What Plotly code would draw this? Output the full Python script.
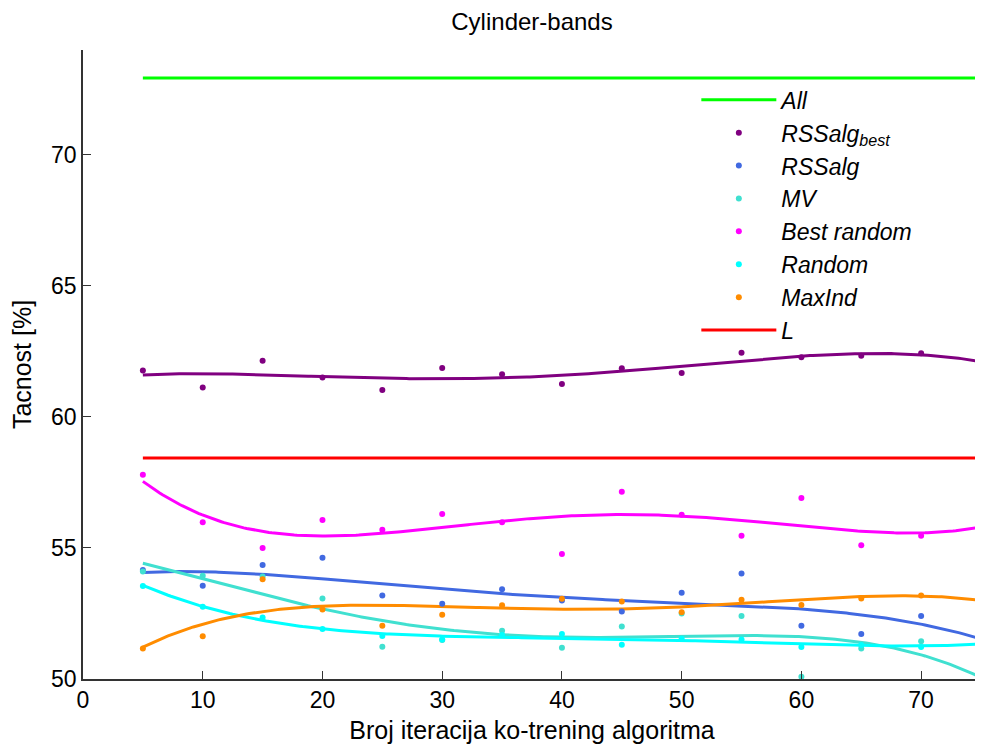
import numpy as np
import plotly.graph_objects as go

iterations = [5, 10, 15, 20, 25, 30, 35, 40, 45, 50, 55, 60, 65, 70, 75]

all_value = 72.93
l_value = 58.43

rssalg_best = [61.77, 61.12, 62.14, 61.50, 61.03, 61.87, 61.63, 61.26, 61.86, 61.68, 62.45, 62.28, 62.33, 62.43, 62.09]
rssalg = [54.16, 53.56, 54.35, 54.63, 53.19, 52.87, 53.42, 53.00, 52.58, 53.29, 54.03, 52.03, 51.72, 52.40, 51.61]
mv = [54.10, 53.94, 53.91, 53.07, 51.23, 51.49, 51.84, 51.19, 52.00, 52.50, 52.40, 50.09, 51.16, 51.44, 50.03]
best_random = [57.79, 55.98, 55.00, 56.07, 55.69, 56.30, 55.98, 54.77, 57.14, 56.27, 55.47, 56.91, 55.10, 55.47, 55.89]
random_ = [53.55, 52.76, 52.35, 51.91, 51.64, 51.51, 51.68, 51.72, 51.31, 51.54, 51.51, 51.22, 51.30, 51.22, 51.36]
maxind = [51.16, 51.63, 53.81, 52.65, 52.03, 52.45, 52.81, 53.06, 52.96, 52.55, 53.02, 52.82, 53.07, 53.19, 53.05]

x_ticks = [0, 10, 20, 30, 40, 50, 60, 70]
y_ticks = [50, 55, 60, 65, 70]

series = [
    ("<i>RSSalg<sub>best</sub></i>", rssalg_best, "#800080"),
    ("<i>RSSalg</i>", rssalg, "#4169E1"),
    ("<i>MV</i>", mv, "#40E0D0"),
    ("<i>Best random</i>", best_random, "#FF00FF"),
    ("<i>Random</i>", random_, "#00FFFF"),
    ("<i>MaxInd</i>", maxind, "#FF8C00"),
]

font = "Liberation Sans, Arial, sans-serif"
fig = go.Figure()

x_arr = np.array(iterations, dtype=float)
x_dense = np.linspace(x_arr.min(), x_arr.max(), 300)

# fitted trend curves (4th-degree polynomial fit of each series; not in legend)
for name, vals, color in series:
    coef = np.polyfit(x_arr, np.array(vals), 4)
    fig.add_trace(go.Scatter(x=x_dense, y=np.polyval(coef, x_dense), mode="lines",
                             line=dict(color=color, width=3), showlegend=False,
                             hoverinfo="skip", cliponaxis=False))

fig.add_trace(go.Scatter(x=iterations, y=[all_value] * len(iterations), mode="lines",
                         line=dict(color="#00FF00", width=3), name="<i>All</i>",
                         legendgroup="a", legendrank=1))
for i, (name, vals, color) in enumerate(series):
    fig.add_trace(go.Scatter(x=iterations, y=vals, mode="markers",
                             marker=dict(color=color, size=6), name=name,
                             legendgroup="g%d" % i, legendrank=2 + i, cliponaxis=False))
fig.add_trace(go.Scatter(x=iterations, y=[l_value] * len(iterations), mode="lines",
                         line=dict(color="#FF0000", width=3), name="<i>L</i>",
                         legendgroup="z", legendrank=20))

axis_common = dict(showline=True, linecolor="#333333", linewidth=1.5, ticks="inside",
                   ticklen=8, tickcolor="#333333", showgrid=False, zeroline=False,
                   tickfont=dict(family=font, size=23, color="#000000"),
                   mirror=False, automargin=False)

# the page body adds an 8px offset, so the figure is sized 8px smaller
fig.update_layout(
    width=975, height=737,
    margin=dict(l=75, r=2, t=42, b=66),
    plot_bgcolor="white", paper_bgcolor="white",
    title=dict(text="Cylinder-bands", xref="paper", x=0.5, xanchor="center",
               y=0.981, yanchor="middle",
               font=dict(family=font, size=24, color="#000000")),
    xaxis=dict(range=[0, 75], tickvals=x_ticks,
               title=dict(text="Broj iteracija ko-trening algoritma", standoff=9,
                          font=dict(family=font, size=25, color="#000000")),
               **axis_common),
    yaxis=dict(range=[50, 74], tickvals=y_ticks,
               title=dict(text="Tacnost [%]", standoff=12,
                          font=dict(family=font, size=25, color="#000000")),
               **axis_common),
    legend=dict(x=0.683, y=0.955, xanchor="left", yanchor="top", bgcolor="rgba(0,0,0,0)",
                font=dict(family=font, size=23, color="#000000"),
                itemwidth=75, traceorder="grouped", tracegroupgap=0),
)

fig.write_html("out.html")
